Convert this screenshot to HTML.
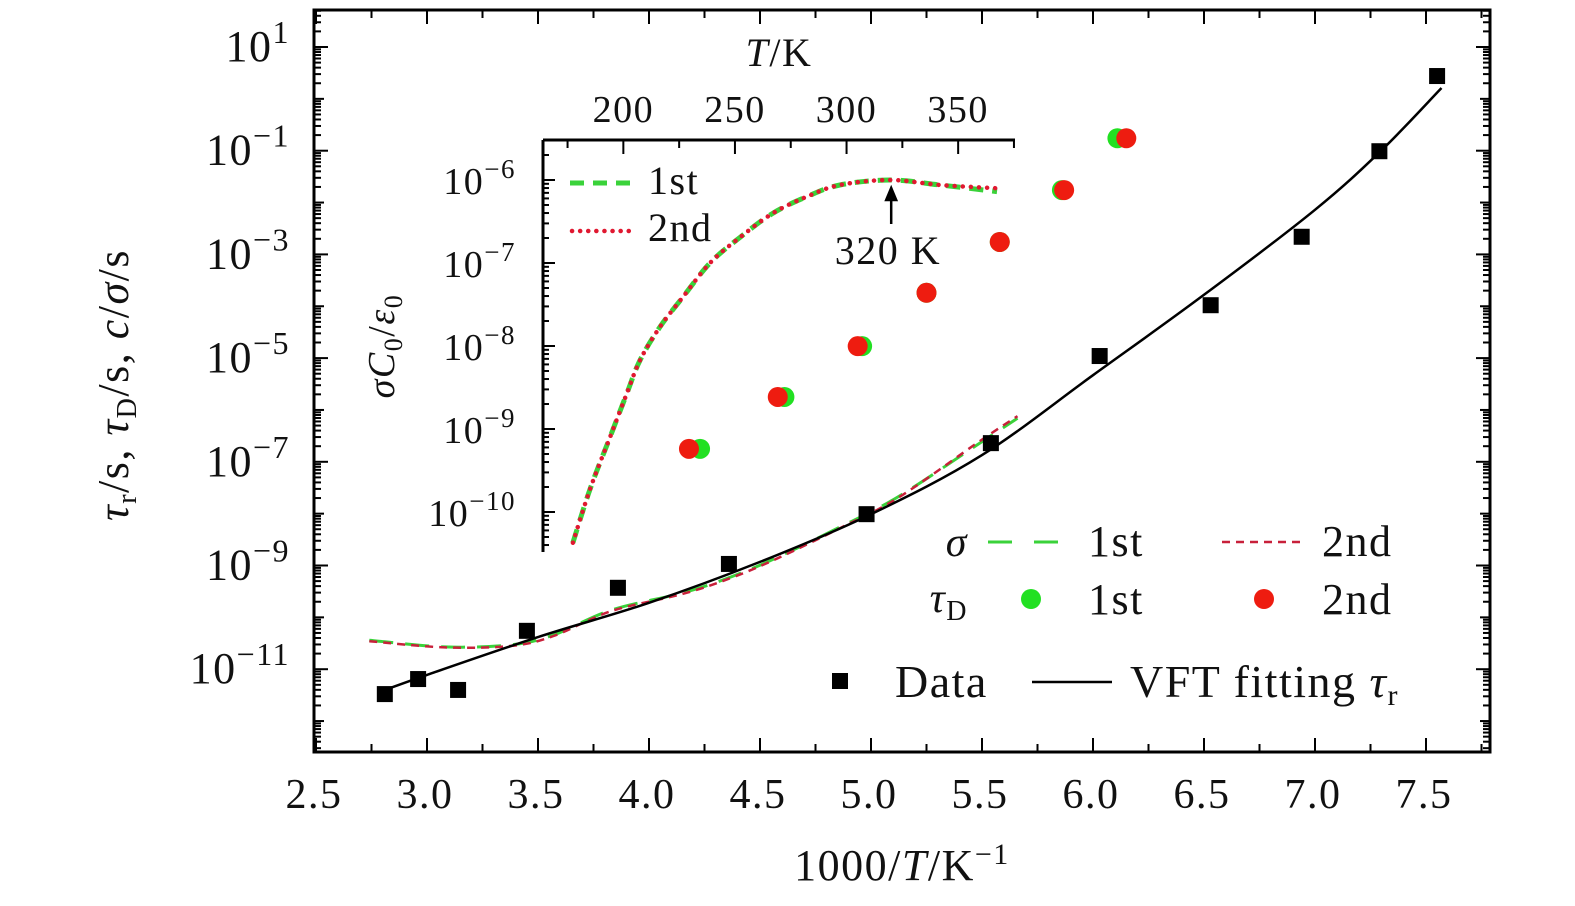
<!DOCTYPE html>
<html><head><meta charset="utf-8"><style>
html,body{margin:0;padding:0;background:#fff;width:1575px;height:906px;overflow:hidden}
svg{display:block}
text{font-family:"Liberation Serif",serif;fill:#111;letter-spacing:1.5px}
</style></head><body>
<svg id="chart" width="1575" height="906" xmlns="http://www.w3.org/2000/svg">
<g id="main"></g>
<g id="inset"></g>
</svg>
<script>
// ---- main data ----
const xTickLabels = [2.5,3.0,3.5,4.0,4.5,5.0,5.5,6.0,6.5,7.0,7.5];
const yTickExps = [1,-1,-3,-5,-7,-9,-11];
const dataX = [2.81,2.96,3.14,3.45,3.86,4.36,4.98,5.54,6.03,6.53,6.94,7.29,7.55];
const dataY = [-11.48,-11.19,-11.40,-10.26,-9.43,-8.97,-8.01,-6.64,-4.96,-3.98,-2.66,-1.01,0.44];
const vftX = [2.81,3.0,3.5,4.0,4.5,5.0,5.5,6.0,6.5,7.0,7.3,7.57];
const vftY = [-11.40,-11.11,-10.38,-9.72,-8.93,-8.01,-6.87,-5.33,-3.78,-2.14,-0.99,0.21];
const sigX = [2.74,3.08,3.38,3.57,3.83,4.15,4.37,4.58,4.86,5.12,5.49,5.66];
const sig1Y = [-10.44,-10.57,-10.53,-10.34,-9.86,-9.53,-9.22,-8.84,-8.26,-7.68,-6.64,-6.16];
const sig2Y = [-10.46,-10.58,-10.55,-10.36,-9.88,-9.55,-9.24,-8.86,-8.28,-7.70,-6.60,-6.12];
const tauExp = [-6.75,-5.75,-4.77,-3.74,-2.76,-1.76,-0.76];
const tau1X = [4.23,4.61,4.96,5.25,5.58,5.86,6.11];
const tau2X = [4.18,4.58,4.94,5.25,5.58,5.87,6.15];
// ---- inset data ----
const inTTicks = [200,250,300,350];
const inYExps = [-6,-7,-8,-9,-10];
const inT = [177.4,185,194,201.6,207.5,216.4,226.7,238.8,252.3,267,282.3,297,319.5,341.9,367.4];
const in1Y = [-10.37,-9.73,-9.10,-8.57,-8.17,-7.77,-7.41,-7.00,-6.69,-6.40,-6.20,-6.06,-6.00,-6.06,-6.14];
const in2Y = [-10.37,-9.73,-9.10,-8.57,-8.17,-7.77,-7.41,-7.00,-6.69,-6.40,-6.20,-6.06,-6.00,-6.06,-6.10];

const NS='http://www.w3.org/2000/svg';
function mk(p,tag,at,txt){const e=document.createElementNS(NS,tag);for(const k in at)e.setAttribute(k,at[k]);if(txt!==undefined)e.textContent=txt;p.appendChild(e);return e;}
const X=v=>316+(v-2.5)*222;
const Y=e=>47+(1-e)*51.85;
const IX=t=>543+(t-164)*2.232;
const IY=e=>180+(-6-e)*83;
const main=document.getElementById('main'), inset=document.getElementById('inset');

// smooth path (Catmull-Rom)
function path(xs,ys,fx,fy){const P=xs.map((v,i)=>[fx(v),fy(ys[i])]);let d='M'+P[0][0].toFixed(1)+','+P[0][1].toFixed(1);
 for(let i=0;i<P.length-1;i++){const p0=P[Math.max(0,i-1)],p1=P[i],p2=P[i+1],p3=P[Math.min(P.length-1,i+2)];
  const c1=[p1[0]+(p2[0]-p0[0])/6,p1[1]+(p2[1]-p0[1])/6],c2=[p2[0]-(p3[0]-p1[0])/6,p2[1]-(p3[1]-p1[1])/6];
  d+='C'+c1[0].toFixed(1)+','+c1[1].toFixed(1)+' '+c2[0].toFixed(1)+','+c2[1].toFixed(1)+' '+p2[0].toFixed(1)+','+p2[1].toFixed(1);}
 return d;}

let f=mk(main,'rect',{x:314,y:10,width:1176,height:742,fill:'none',stroke:'#000','stroke-width':3});


for(let v=2.5;v<=7.8;v+=0.25){const px=X(v);const maj=Math.abs(v*2-Math.round(v*2))<1e-6;
 mk(main,'line',{x1:px,y1:752,x2:px,y2:752-(maj?14:8),stroke:'#000','stroke-width':2});
 mk(main,'line',{x1:px,y1:10,x2:px,y2:10+(maj?14:8),stroke:'#000','stroke-width':2});}
xTickLabels.forEach(v=>{const t=mk(main,'text',{x:X(v)-2,y:808,'text-anchor':'middle','font-size':42},v.toFixed(1));
 
 });
for(let e=-13;e<=1;e++){for(let m=1;m<10;m++){const y=Y(e+Math.log10(m));if(y<10||y>752)continue;
 const L=m===1?(Math.abs(e%2)===1?14:10):7;
 mk(main,'line',{x1:314,y1:y,x2:314+L,y2:y,stroke:'#000','stroke-width':2});
 mk(main,'line',{x1:1490,y1:y,x2:1490-L,y2:y,stroke:'#000','stroke-width':2});}}
yTickExps.forEach(e=>{const t=mk(main,'text',{x:290,y:Y(e)+14,'text-anchor':'end','font-size':44});
 t.innerHTML='10<tspan dy="-18" font-size="32">'+(e<0?'\u2212'+(-e):e)+'</tspan>';
 
 });
let xt=mk(main,'text',{x:902,y:880,'text-anchor':'middle','font-size':44});
xt.innerHTML='1000/<tspan font-style="italic">T</tspan>/K<tspan dy="-16" font-size="30">\u22121</tspan>';


let yt=mk(main,'text',{transform:'translate(128,385) rotate(-90)','text-anchor':'middle','font-size':44});
yt.innerHTML='<tspan font-style="italic">τ</tspan><tspan dy="8" font-size="28">r</tspan><tspan dy="-8">/s, </tspan><tspan font-style="italic">τ</tspan><tspan dy="8" font-size="28">D</tspan><tspan dy="-8">/s, </tspan><tspan font-style="italic">c</tspan>/<tspan font-style="italic">σ</tspan>/s';



let s1=mk(main,'path',{d:path(sigX,sig1Y,X,Y),fill:'none',stroke:'#3ad23a','stroke-width':3,'stroke-dasharray':'24 12'});


let s2=mk(main,'path',{d:path(sigX,sig2Y,X,Y),fill:'none',stroke:'#c8203a','stroke-width':2.5,'stroke-dasharray':'8 6'});


let vf=mk(main,'path',{d:path(vftX,vftY,X,Y),fill:'none',stroke:'#000','stroke-width':2.5});


dataX.forEach((v,i)=>{const r=mk(main,'rect',{x:X(v)-8,y:Y(dataY[i])-8,width:16,height:16,fill:'#000'});
 
 });
tau1X.forEach((v,i)=>{const c=mk(main,'circle',{cx:X(v),cy:Y(tauExp[i]),r:10,fill:'#22e022'});
 
 });
tau2X.forEach((v,i)=>{const c=mk(main,'circle',{cx:X(v),cy:Y(tauExp[i]),r:10,fill:'#ee1c10'});
 
 });

const lg=mk(main,'g',{});


mk(lg,'text',{x:968,y:556,'text-anchor':'end','font-size':42,'font-style':'italic'},'σ');
mk(lg,'line',{x1:988,y1:542,x2:1068,y2:542,stroke:'#3ad23a','stroke-width':3,'stroke-dasharray':'24 22'});
mk(lg,'text',{x:1088,y:556,'font-size':44},'1st');
mk(lg,'line',{x1:1222,y1:542,x2:1302,y2:542,stroke:'#c8203a','stroke-width':2.5,'stroke-dasharray':'8 6'});
mk(lg,'text',{x:1322,y:556,'font-size':44},'2nd');
let td=mk(lg,'text',{x:968,y:612,'text-anchor':'end','font-size':42});
td.innerHTML='<tspan font-style="italic">τ</tspan><tspan dy="8" font-size="28">D</tspan>';
mk(lg,'circle',{cx:1031,cy:599,r:10,fill:'#22e022'});
mk(lg,'text',{x:1088,y:614,'font-size':44},'1st');
mk(lg,'circle',{cx:1264,cy:599,r:10,fill:'#ee1c10'});
mk(lg,'text',{x:1322,y:614,'font-size':44},'2nd');
mk(lg,'rect',{x:832,y:673,width:16,height:16,fill:'#000'});
mk(lg,'text',{x:895,y:697,'font-size':46},'Data');
mk(lg,'line',{x1:1032,y1:682,x2:1112,y2:682,stroke:'#000','stroke-width':2.5});
let vl=mk(lg,'text',{x:1130,y:697,'font-size':46});
vl.innerHTML='VFT fitting <tspan font-style="italic">τ</tspan><tspan dy="8" font-size="30">r</tspan>';

// ---- inset ----
mk(inset,'line',{x1:543,y1:140,x2:543,y2:552,stroke:'#000','stroke-width':3});
mk(inset,'line',{x1:543,y1:140,x2:1015,y2:140,stroke:'#000','stroke-width':3});
for(let t=175;t<=375;t+=25){const px=IX(t);const maj=t%50===0;
 mk(inset,'line',{x1:px,y1:140,x2:px,y2:140+(maj?14:8),stroke:'#000','stroke-width':2});}
inTTicks.forEach(t=>{const e=mk(inset,'text',{x:IX(t),y:122,'text-anchor':'middle','font-size':38},t);
 
 });
let itt=mk(inset,'text',{x:779,y:66,'text-anchor':'middle','font-size':40});
itt.innerHTML='<tspan font-style="italic">T</tspan>/K';


for(let e=-11;e<=-6;e++){for(let m=1;m<10;m++){const y=IY(e+Math.log10(m));if(y<140||y>552)continue;
 mk(inset,'line',{x1:543,y1:y,x2:543+(m===1?12:6),y2:y,stroke:'#000','stroke-width':2});}}
inYExps.forEach(e=>{const t=mk(inset,'text',{x:516,y:IY(e)+14,'text-anchor':'end','font-size':38});
 t.innerHTML='10<tspan dy="-16" font-size="27">\u2212'+(-e)+'</tspan>';
 
 });
let iyt=mk(inset,'text',{transform:'translate(394,346) rotate(-90)','text-anchor':'middle','font-size':38,'font-style':'italic'});
iyt.innerHTML='σC<tspan dy="8" font-size="26" font-style="normal">0</tspan><tspan dy="-8" font-style="normal">/</tspan>ε<tspan dy="8" font-size="26" font-style="normal">0</tspan>';


let i1=mk(inset,'path',{d:path(inT,in1Y,IX,IY),fill:'none',stroke:'#3ad23a','stroke-width':5,'stroke-dasharray':'14 9'});


let i2=mk(inset,'path',{d:path(inT,in2Y,IX,IY),fill:'none',stroke:'#e01830','stroke-width':4.5,'stroke-dasharray':'0.1 8','stroke-linecap':'round'});


mk(inset,'line',{x1:570,y1:183,x2:636,y2:183,stroke:'#3ad23a','stroke-width':5,'stroke-dasharray':'14 9'});
mk(inset,'text',{x:648,y:194,'font-size':40},'1st');
mk(inset,'line',{x1:572,y1:231,x2:636,y2:231,stroke:'#e01830','stroke-width':4.5,'stroke-dasharray':'0.1 8','stroke-linecap':'round'});
mk(inset,'text',{x:648,y:241,'font-size':40},'2nd');
let ar=mk(inset,'path',{d:'M'+IX(320)+',224 L'+IX(320)+',196 M'+(IX(320)-5)+',200 L'+IX(320)+',188 L'+(IX(320)+5)+',200 Z',stroke:'#000','stroke-width':2.5,fill:'#000'});


let pk=mk(inset,'text',{x:888,y:264,'text-anchor':'middle','font-size':40},'320 K');


</script>
</body></html>
